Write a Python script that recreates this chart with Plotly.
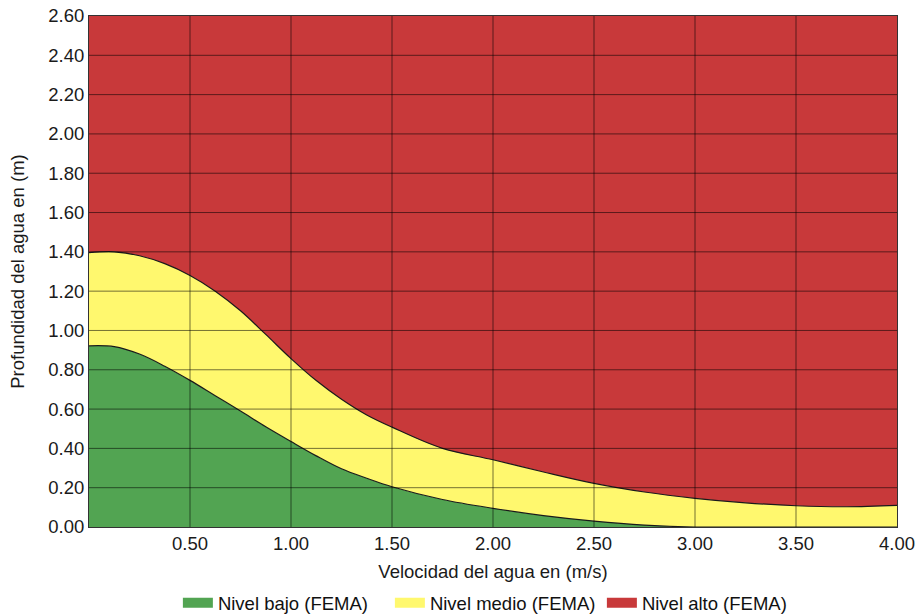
import plotly.graph_objects as go

# Velocidad (m/s) sample points
velocidad = [0.0, 0.125, 0.25, 0.375, 0.5, 0.625, 0.75, 0.875, 1.0, 1.125, 1.25, 1.375, 1.5,
             1.75, 2.0, 2.25, 2.5, 2.75, 3.0, 3.25, 3.5, 3.75, 4.0]
# Lower boundary (top of Nivel bajo)
limite_bajo = [0.922, 0.918, 0.88, 0.818, 0.746, 0.668, 0.59, 0.51, 0.435, 0.362, 0.296, 0.248, 0.205,
               0.14, 0.095, 0.058, 0.03, 0.01, 0.0, 0.0, 0.0, 0.0, 0.0]
# Upper boundary (top of Nivel medio)
limite_medio = [1.396, 1.40, 1.38, 1.34, 1.28, 1.20, 1.10, 0.98, 0.857, 0.745, 0.65, 0.57, 0.508,
                0.40, 0.342, 0.28, 0.222, 0.178, 0.146, 0.123, 0.108, 0.103, 0.11]
profundidad_max = 2.60

series_names = ["Nivel bajo (FEMA)", "Nivel medio (FEMA)", "Nivel alto (FEMA)"]
colors = ["#52A452", "#FFF86E", "#C8393A"]

x_ticks = [0.5, 1.0, 1.5, 2.0, 2.5, 3.0, 3.5, 4.0]
y_ticks = [0.0, 0.2, 0.4, 0.6, 0.8, 1.0, 1.2, 1.4, 1.6, 1.8, 2.0, 2.2, 2.4, 2.6]

bajo = limite_bajo
medio = [m - b for m, b in zip(limite_medio, limite_bajo)]
alto = [profundidad_max - m for m in limite_medio]

SPLINE = dict(shape="spline", smoothing=1.0)

fig = go.Figure()
for name, vals, col in zip(series_names, [bajo, medio, alto], colors):
    fig.add_trace(go.Scatter(
        x=velocidad, y=vals, name=name, stackgroup="one", mode="lines",
        line=dict(color=col, width=0, **SPLINE), legendgroup=name, showlegend=False,
        fillcolor=col, hoverinfo="x+y",
    ))
# boundary outlines
for lim in [limite_bajo, limite_medio]:
    fig.add_trace(go.Scatter(
        x=velocidad, y=lim, mode="lines", showlegend=False, hoverinfo="skip",
        line=dict(color="#1a1a1a", width=1.2, **SPLINE),
    ))
# legend swatches
for name, col in zip(series_names, colors):
    fig.add_trace(go.Scatter(
        x=[None], y=[None], mode="lines", name=name, legendgroup=name,
        line=dict(color=col, width=14),
    ))

shapes = []
for xv in x_ticks[:-1]:
    shapes.append(dict(type="line", xref="x", yref="paper", x0=xv, x1=xv, y0=0, y1=1,
                       line=dict(color="rgba(0,0,0,0.55)", width=1), layer="above"))
for yv in y_ticks[1:-1]:
    shapes.append(dict(type="line", xref="paper", yref="y", x0=0, x1=1, y0=yv, y1=yv,
                       line=dict(color="rgba(0,0,0,0.55)", width=1), layer="above"))

font_family = "Liberation Sans, Arial, sans-serif"
fig.update_layout(
    width=923, height=616,
    margin=dict(l=89, r=26, t=16, b=89, autoexpand=False),
    paper_bgcolor="white", plot_bgcolor="white",
    font=dict(family=font_family, size=18, color="#1a1a1a"),
    shapes=shapes,
    showlegend=True,
    legend=dict(orientation="h", x=0.110, xanchor="left", y=-0.112, yanchor="top",
                font=dict(size=18.5, color="#111"), traceorder="normal", itemwidth=30,
                entrywidth=167, entrywidthmode="pixels"),
    xaxis=dict(range=[0, 4], tickvals=x_ticks, ticktext=[f"{v:.2f}" for v in x_ticks],
               showgrid=False, zeroline=False, showline=True, linecolor="#333", linewidth=1,
               mirror=True, ticks="", tickfont=dict(size=18.5), automargin=False,
               title=dict(text="Velocidad del agua en (m/s)", standoff=11, font=dict(size=18.5)),
               layer="above traces"),
    yaxis=dict(range=[0, 2.6], tickvals=y_ticks, ticktext=[f"{v:.2f}" for v in y_ticks],
               showgrid=False, zeroline=False, showline=True, linecolor="#333", linewidth=1,
               mirror=True, ticks="", tickfont=dict(size=18.5), automargin=False,
               title=dict(text="Profundidad del agua en (m)", standoff=18, font=dict(size=18.5)),
               layer="above traces"),
)

fig.write_html("out.html", config={"displayModeBar": False},
               post_script="document.body.style.margin='0';")
